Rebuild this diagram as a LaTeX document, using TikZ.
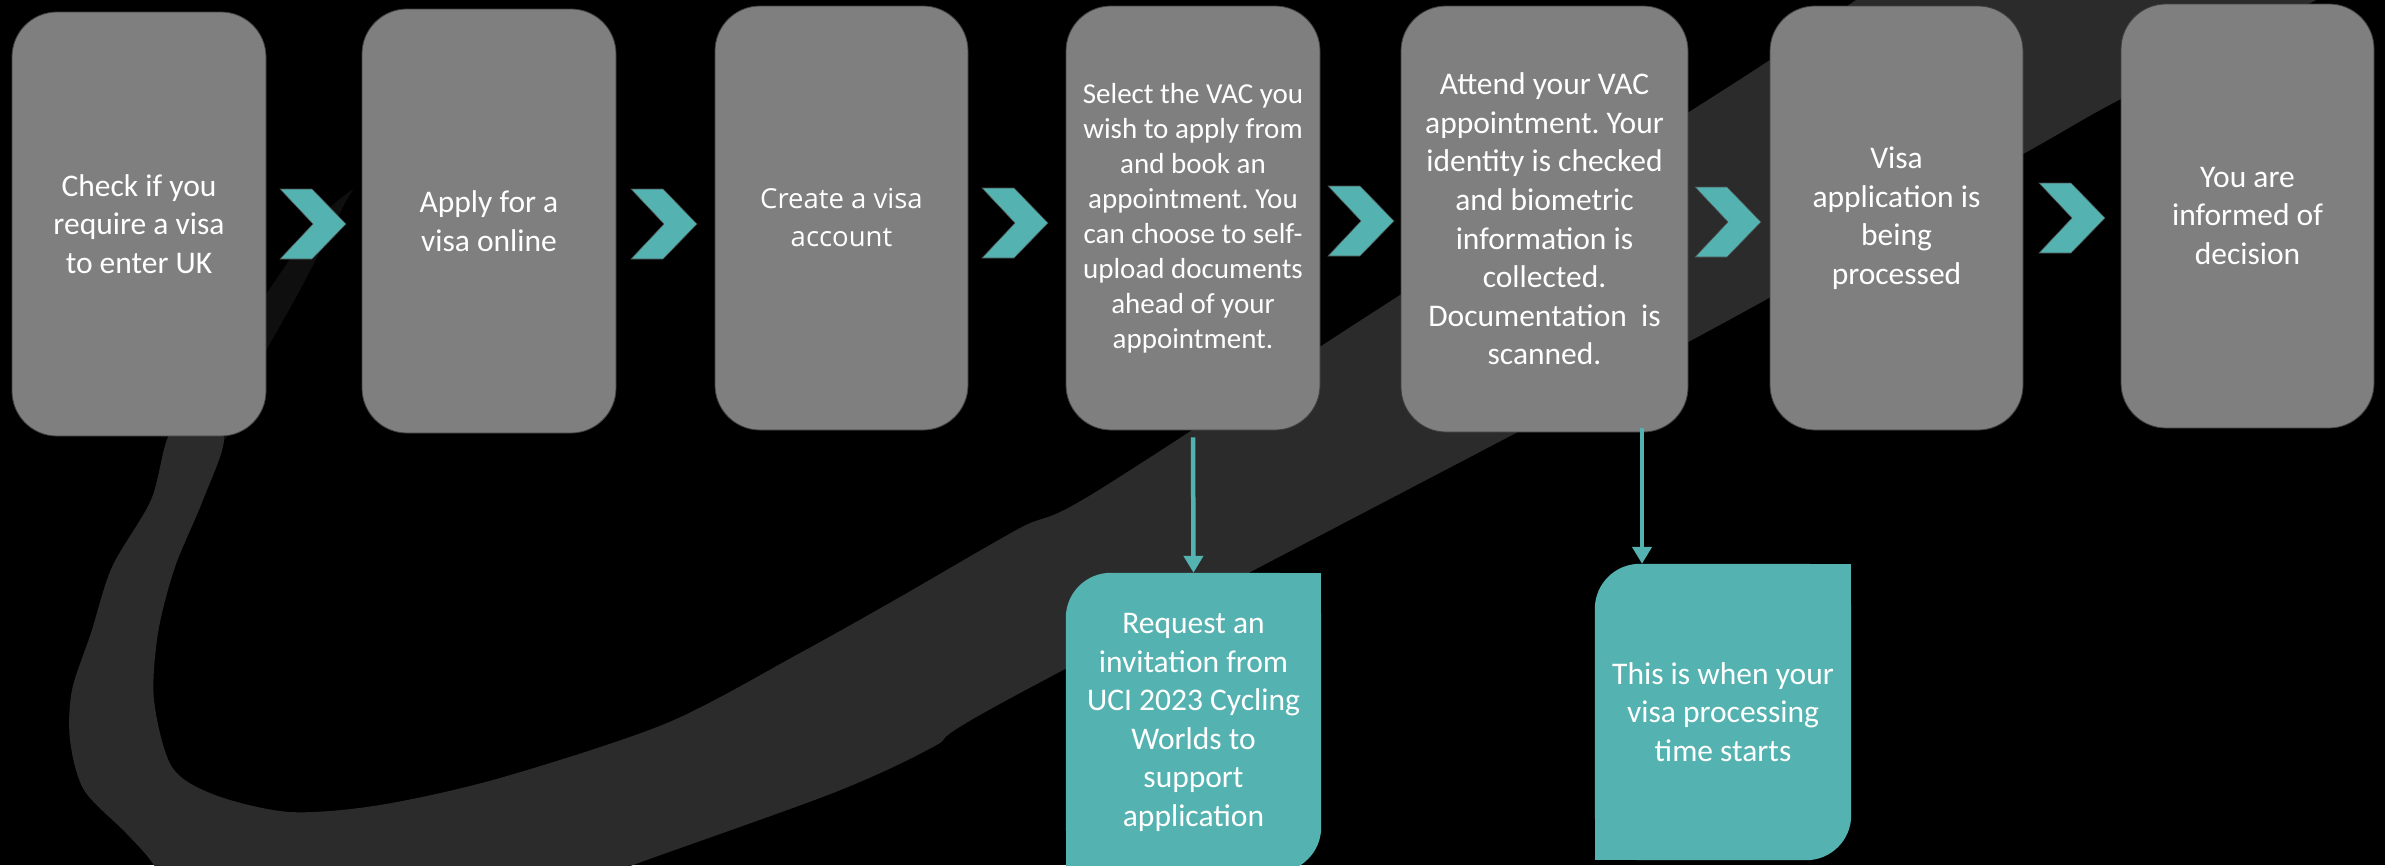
\documentclass[tikz,border=0pt]{standalone}
\usepackage{fontspec}
\setmainfont{Carlito}
\newfontfamily\osans{Open Sans}
\usetikzlibrary{arrows.meta,calc,backgrounds}
\definecolor{boxgray}{RGB}{127,127,127}
\definecolor{tealc}{RGB}{84,179,177}
\definecolor{swoosh}{RGB}{43,43,43}
\definecolor{swfaint}{RGB}{15,15,15}
\frenchspacing
\tikzset{
  gbox/.style={fill=boxgray, draw=black!75, line width=0.8pt, rounded corners=45pt,
    text=white, align=center, inner sep=0pt,
    font=\fontsize{31.5}{38.5}\selectfont},
  tbox/.style={text=white, align=center, inner sep=0pt,
    font=\fontsize{31.5}{38.5}\selectfont},
  arr/.style={draw=tealc, line width=4.5pt, -{Triangle[width=19pt,length=17pt]}},
  chev/.pic={\filldraw[fill=tealc, draw=black!70, line width=0.6pt]
     (0,0) -- (32,0) -- (66,35) -- (32,70) -- (0,70) -- (33,35) -- cycle;}
}
\begin{document}
\begin{tikzpicture}[x=1pt,y=-1pt]
\useasboundingbox (0,0) rectangle (2385,865);
\begin{scope}[on background layer]
  \fill[black] (0,0) rectangle (2385,865);
  \clip (0,0) rectangle (2385,865);
  \fill[swfaint] plot[smooth cycle, tension=0.5] coordinates {
    (168,440) (200,390) (262,300) (318,220) (352,190) (344,205) (300,290) (250,380) (224,440)};
  \fill[swoosh] plot[smooth cycle, tension=0.5] coordinates {
    (224,437) (203,500) (175,567) (158,633) (154,700) (172,767) (215,795)
    (290,812) (380,805) (500,778) (667,723) (800,653) (900,597) (1020,528)
    (1094,493) (1400,295) (1750,73) (1856,0) (1943,-60) (2429,-60) (2316,0)
    (2119,100) (2025,153) (1692,340) (1020,693) (933,747) (833,793) (633,865)
    (486,920) (185,920) (154,865) (126,833) (84,790) (70,740) (72,690)
    (91,633) (112,567) (151,500) (168,437) (196,400)};
\end{scope}

% grey step boxes
\node[gbox, minimum width=254pt, minimum height=424pt] (b1) at (139,224)
  {Check if you\\require a visa\\to enter UK};
\node[gbox, minimum width=254pt, minimum height=424pt] (b2) at (489,221)
  {Apply for a\\visa online};
\node[gbox, minimum width=253pt, minimum height=424pt,
      font=\osans\fontsize{27.5}{38}\selectfont] (b3) at (841.5,218)
  {Create a visa\\account};
\node[gbox, minimum width=254pt, minimum height=424pt,
      font=\fontsize{29}{35}\selectfont] (b4) at (1193,218)
  {Select the VAC you\\wish to apply from\\and book an\\appointment. You\\can choose to self-\\upload documents\\ahead of your\\appointment.};
\node[gbox, minimum width=287pt, minimum height=426pt,
      font=\fontsize{31.5}{38.6}\selectfont] (b5) at (1544.5,219)
  {Attend your VAC\\appointment. Your\\identity is checked\\and biometric\\information is\\collected.\\Documentation\ \ is\\scanned.};
\node[gbox, minimum width=253pt, minimum height=424pt] (b6) at (1896.5,218)
  {Visa\\application is\\being\\processed};
\node[gbox, minimum width=253pt, minimum height=424pt] (b7) at (2247.5,216)
  {You are\\informed of\\decision};

% chevrons
\pic at (280,189) {chev};
\pic at (631,189) {chev};
\pic at (982,188) {chev};
\pic at (1328,186) {chev};
\pic at (1695,187) {chev};
\pic at (2039,183) {chev};

% teal boxes
\node[tbox, minimum width=255pt, minimum height=299pt] (t1) at (1193.5,722.5)
  {Request an\\invitation from\\UCI 2023 Cycling\\Worlds to\\support\\application};
\node[tbox, minimum width=256pt, minimum height=296pt] (t2) at (1723,712)
  {This is when your\\visa processing\\time starts};
\begin{scope}[on background layer]
  \foreach \t in {t1,t2}{
    \fill[tealc, rounded corners=45pt] (\t.north west) rectangle (\t.south east);
    \fill[tealc] (\t.north east) rectangle ($(\t.north east)+(-60,60)$);
    \fill[tealc] (\t.south west) rectangle ($(\t.south west)+(60,-60)$);
  }
\end{scope}

% connectors
\draw[arr, shorten <=7pt] (b4.south) -- (t1.north);
\draw[arr] ([xshift=97.5pt,yshift=4pt]b5.south) coordinate (a2s) -- (a2s |- t2.north);
\end{tikzpicture}
\end{document}
